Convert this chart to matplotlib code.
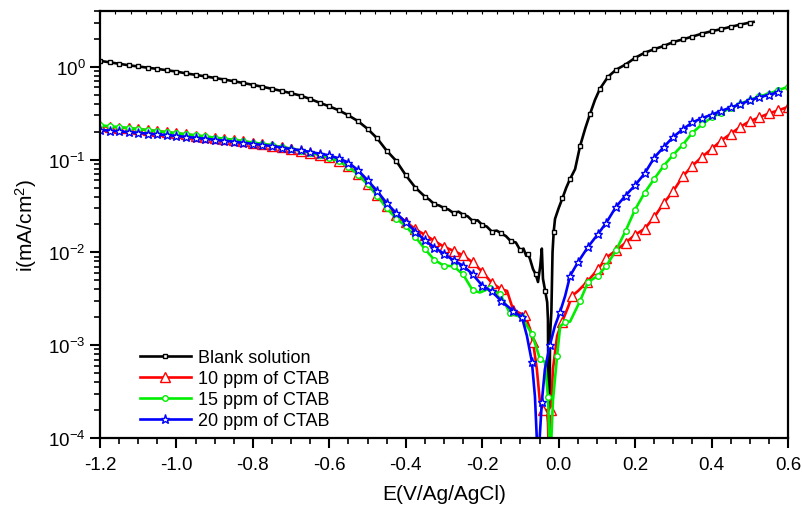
"""
Potentiodynamic polarization curves (Tafel plots) of the blank solution and
with 10, 15 and 20 ppm of CTAB. Values read off the reference figure.
"""

import numpy as np
import matplotlib.pyplot as plt
import matplotlib.ticker as mticker

plt.rcParams["font.family"] = ["Liberation Sans", "DejaVu Sans"]
plt.rcParams["mathtext.default"] = "regular"

# ---------------------------------------------------------------------------
# Data: potential E (V vs Ag/AgCl) and current density i (mA/cm2)
# ---------------------------------------------------------------------------
blank_E = [
    -1.200, -1.175, -1.150, -1.125, -1.100, -1.075, -1.050, -1.025, -1.000,
    -0.975, -0.950, -0.925, -0.900, -0.875, -0.850, -0.825, -0.800, -0.775,
    -0.750, -0.725, -0.700, -0.675, -0.650, -0.625, -0.600, -0.575, -0.550,
    -0.525, -0.500, -0.475, -0.450, -0.425, -0.400, -0.375, -0.350, -0.338,
    -0.325, -0.312, -0.300, -0.288, -0.275, -0.262, -0.250, -0.238, -0.225,
    -0.212, -0.200, -0.188, -0.175, -0.162, -0.150, -0.138, -0.125, -0.112,
    -0.100, -0.092, -0.085, -0.080, -0.075, -0.067, -0.060, -0.054, -0.048,
    -0.044, -0.041, -0.035, -0.030, -0.028, -0.026, -0.024, -0.0226, -0.019,
    -0.016, -0.013, -0.0095, 0.000, 0.010, 0.020, 0.030, 0.043, 0.056, 0.070,
    0.082, 0.095, 0.108, 0.129, 0.150, 0.175, 0.200, 0.225, 0.250, 0.275,
    0.300, 0.325, 0.350, 0.375, 0.400, 0.425, 0.450, 0.475, 0.500, 0.510,
]
blank_i = [
    1.16, 1.12, 1.08, 1.04, 1.01, 0.98, 0.95, 0.92, 0.89,
    0.85, 0.82, 0.79, 0.76, 0.73, 0.70, 0.67, 0.64, 0.61,
    0.58, 0.55, 0.52, 0.49, 0.45, 0.41, 0.375, 0.34, 0.30,
    0.26, 0.215, 0.17, 0.125, 0.097, 0.068, 0.050, 0.040, 0.037,
    0.033, 0.032, 0.030, 0.029, 0.0265, 0.0275, 0.0255, 0.0245, 0.0218,
    0.0222, 0.0198, 0.0190, 0.0168, 0.0172, 0.0160, 0.0150, 0.0132, 0.0128,
    0.0105, 0.0110, 0.0092, 0.0096, 0.0085, 0.0066, 0.0058, 0.0048, 0.0072,
    0.011, 0.0052, 0.0038, 0.0029, 0.0019, 0.00005, 0.00005, 0.00126, 0.0023,
    0.0100, 0.0166, 0.023, 0.030, 0.0385, 0.050, 0.062, 0.079, 0.14, 0.22,
    0.31, 0.44, 0.58, 0.78, 0.93, 1.06, 1.25, 1.42, 1.55, 1.68,
    1.85, 1.98, 2.12, 2.28, 2.42, 2.55, 2.70, 2.85, 3.00, 3.05,
]

ctab10_E = [
    -1.200, -1.175, -1.150, -1.125, -1.100, -1.075, -1.050, -1.025, -1.000,
    -0.975, -0.950, -0.925, -0.900, -0.875, -0.850, -0.825, -0.800, -0.775,
    -0.750, -0.725, -0.700, -0.675, -0.650, -0.625, -0.600, -0.575, -0.550,
    -0.525, -0.500, -0.475, -0.450, -0.425, -0.400, -0.375, -0.350, -0.325,
    -0.300, -0.275, -0.250, -0.225, -0.200, -0.175, -0.150, -0.135, -0.119,
    -0.100, -0.088, -0.075, -0.067, -0.057, -0.049, -0.041, -0.031, -0.028,
    -0.025, -0.020, -0.015, -0.004, 0.009, 0.025, 0.035, 0.051, 0.074,
    0.103, 0.125, 0.150, 0.175, 0.200, 0.225, 0.250, 0.275, 0.300, 0.325,
    0.350, 0.375, 0.400, 0.425, 0.450, 0.475, 0.500, 0.525, 0.550, 0.575,
    0.600,
]
ctab10_i = [
    0.230, 0.226, 0.222, 0.218, 0.213, 0.208, 0.203, 0.197, 0.192,
    0.187, 0.182, 0.177, 0.172, 0.167, 0.162, 0.157, 0.152, 0.147,
    0.142, 0.137, 0.131, 0.125, 0.119, 0.113, 0.106, 0.097, 0.085,
    0.070, 0.055, 0.042, 0.032, 0.0255, 0.0215, 0.0178, 0.0155, 0.0133,
    0.0115, 0.0104, 0.0093, 0.0078, 0.0062, 0.0047, 0.0040, 0.00385, 0.0024,
    0.0022, 0.0021, 0.0015, 0.00108, 0.00055, 0.000246, 0.0002, 0.0002, 0.000148,
    0.00005, 0.0002, 0.00055, 0.00126, 0.00178, 0.0026, 0.0034, 0.00385, 0.0048,
    0.0066, 0.0088, 0.0105, 0.0127, 0.0155, 0.018, 0.024, 0.034, 0.046, 0.066,
    0.086, 0.107, 0.130, 0.160, 0.190, 0.225, 0.260, 0.285, 0.315, 0.340,
    0.370,
]

ctab15_E = [
    -1.200, -1.175, -1.150, -1.125, -1.100, -1.075, -1.050, -1.025, -1.000,
    -0.975, -0.950, -0.925, -0.900, -0.875, -0.850, -0.825, -0.800, -0.775,
    -0.750, -0.725, -0.700, -0.675, -0.650, -0.625, -0.600, -0.575, -0.550,
    -0.525, -0.500, -0.475, -0.450, -0.425, -0.400, -0.375, -0.350, -0.325,
    -0.300, -0.275, -0.250, -0.225, -0.206, -0.180, -0.153, -0.127, -0.096,
    -0.070, -0.057, -0.049, -0.036, -0.028, -0.022, -0.015, -0.004, 0.004,
    0.017, 0.030, 0.056, 0.077, 0.103, 0.125, 0.150, 0.175, 0.200, 0.225,
    0.250, 0.275, 0.300, 0.325, 0.350, 0.375, 0.400, 0.425, 0.450, 0.475,
    0.500, 0.525, 0.550, 0.575, 0.600,
]
ctab15_i = [
    0.235, 0.229, 0.224, 0.219, 0.214, 0.208, 0.203, 0.198, 0.193,
    0.188, 0.183, 0.178, 0.173, 0.168, 0.163, 0.158, 0.153, 0.148,
    0.143, 0.137, 0.131, 0.125, 0.119, 0.112, 0.105, 0.096, 0.084,
    0.069, 0.054, 0.041, 0.030, 0.0232, 0.0192, 0.0147, 0.0109, 0.0083,
    0.0072, 0.0071, 0.0058, 0.0039, 0.0037, 0.0041, 0.00355, 0.0022, 0.0020,
    0.00132, 0.00091, 0.00071, 0.00066, 0.00028, 0.00005, 0.00025, 0.00077, 0.0016,
    0.00178, 0.0018, 0.0030, 0.0048, 0.0056, 0.0072, 0.0105, 0.017, 0.029, 0.044,
    0.062, 0.086, 0.113, 0.145, 0.195, 0.240, 0.285, 0.320, 0.360, 0.400,
    0.440, 0.480, 0.515, 0.560, 0.610,
]

ctab20_E = [
    -1.200, -1.175, -1.150, -1.125, -1.100, -1.075, -1.050, -1.025, -1.000,
    -0.975, -0.950, -0.925, -0.900, -0.875, -0.850, -0.825, -0.800, -0.775,
    -0.750, -0.725, -0.700, -0.675, -0.650, -0.625, -0.600, -0.575, -0.550,
    -0.525, -0.500, -0.475, -0.450, -0.425, -0.400, -0.375, -0.350, -0.325,
    -0.300, -0.275, -0.250, -0.225, -0.200, -0.175, -0.150, -0.119, -0.096,
    -0.083, -0.070, -0.062, -0.054, -0.044, -0.036, -0.023, -0.010, 0.004,
    0.017, 0.030, 0.051, 0.077, 0.103, 0.125, 0.150, 0.175, 0.200, 0.225,
    0.250, 0.275, 0.300, 0.325, 0.350, 0.375, 0.400, 0.425, 0.450, 0.475,
    0.500, 0.525, 0.550, 0.575,
]
ctab20_i = [
    0.209, 0.206, 0.202, 0.198, 0.195, 0.191, 0.187, 0.184, 0.180,
    0.176, 0.172, 0.168, 0.164, 0.160, 0.156, 0.152, 0.148, 0.144,
    0.140, 0.135, 0.130, 0.126, 0.121, 0.116, 0.111, 0.103, 0.093,
    0.077, 0.060, 0.046, 0.034, 0.0265, 0.0212, 0.0168, 0.0135, 0.0113,
    0.0097, 0.0082, 0.0072, 0.0058, 0.0044, 0.0038, 0.0030, 0.00234, 0.0020,
    0.00126, 0.00066, 0.00028, 0.00005, 0.000245, 0.00055, 0.0010, 0.0016, 0.0023,
    0.0034, 0.0056, 0.0079, 0.0115, 0.0158, 0.021, 0.031, 0.041, 0.053, 0.071,
    0.105, 0.137, 0.176, 0.213, 0.252, 0.280, 0.305, 0.335, 0.365, 0.395,
    0.435, 0.470, 0.500, 0.530,
]

labels = ["Blank solution", "10 ppm of CTAB", "15 ppm of CTAB", "20 ppm of CTAB"]
x_ticks = [-1.2, -1.0, -0.8, -0.6, -0.4, -0.2, 0.0, 0.2, 0.4, 0.6]


def marker_mask(e, step=0.02):
    """Origin-style markers: roughly one per `step` volts along E."""
    keep, last = [], -np.inf
    for v in e:
        ok = v - last >= step - 1e-9
        keep.append(ok)
        if ok:
            last = v
    return keep


fig = plt.figure(figsize=(8.03, 5.06), dpi=100)
ax = fig.add_axes([0.1245, 0.1324, 0.8568, 0.8439])

series = [
    (blank_E, blank_i, "black", "s", 3.5),
    (ctab10_E, ctab10_i, "#ff0000", "^", 6.5),
    (ctab15_E, ctab15_i, "#00ee00", "o", 4.0),
    (ctab20_E, ctab20_i, "#0000ff", "*", 6.5),
]
for (e, i, color, marker, ms), label in zip(series, labels):
    ax.plot(
        e, i, color=color, linewidth=1.9, marker=marker, markersize=ms,
        markerfacecolor="white", markeredgecolor=color, markeredgewidth=1.0,
        markevery=marker_mask(e), label=label,
    )

ax.set_yscale("log")
ax.set_xlim(-1.2, 0.6)
ax.set_ylim(1e-4, 4)

ax.set_xticks(x_ticks)
ax.xaxis.set_major_formatter(mticker.FuncFormatter(lambda x, _: f"{x:.1f}".replace("-0.0", "0.0")))
ax.xaxis.set_minor_locator(mticker.MultipleLocator(0.05))
ax.yaxis.set_major_locator(mticker.LogLocator(base=10, numticks=10))
ax.yaxis.set_minor_locator(mticker.LogLocator(base=10, subs=np.arange(2, 10), numticks=10))
ax.yaxis.set_minor_formatter(mticker.NullFormatter())

ax.tick_params(which="major", direction="out", length=7, width=1.5, labelsize=13.5)
ax.tick_params(which="minor", direction="out", length=4, width=1.2)
ax.tick_params(axis="x", pad=6)

for sp in ax.spines.values():
    sp.set_linewidth(1.6)

# small ticks along the top frame
top = ax.secondary_xaxis("top")
top.xaxis.set_major_locator(mticker.MultipleLocator(0.04))
top.tick_params(direction="in", length=2, width=0.8, labeltop=False)
top.spines["top"].set_visible(False)

ax.set_xlabel("E(V/Ag/AgCl)", fontsize=15, labelpad=8)
ax.set_ylabel("i(mA/cm$^2$)", fontsize=15, labelpad=6)

ax.legend(
    loc="lower left", bbox_to_anchor=(0.045, 0.0), frameon=False,
    fontsize=13, handlelength=2.8, handletextpad=0.4, labelspacing=0.22,
    borderpad=0, numpoints=1,
)

fig.savefig("out.png", dpi=100)
